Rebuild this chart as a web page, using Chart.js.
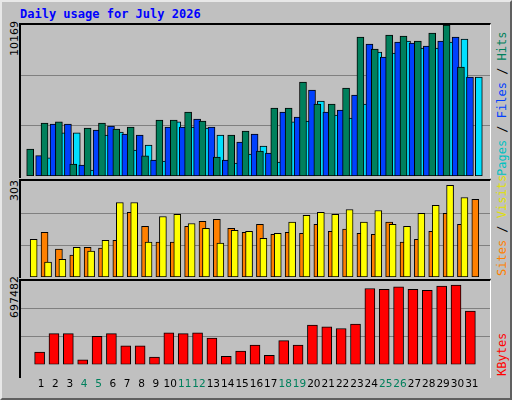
<!DOCTYPE html>
<html>
<head>
<meta charset="utf-8">
<script src="https://cdn.jsdelivr.net/npm/chart.js@4"></script>
<style>
  body { margin: 0; width: 512px; height: 400px; background: #c0c0c0; position: relative; overflow: hidden; font-family: "DejaVu Sans Mono", monospace; }
  #frame { position: absolute; left: 0; top: 0; width: 508px; height: 396px; border-top: 2px solid #e8e8e8; border-left: 2px solid #e8e8e8; border-right: 2px solid #606060; border-bottom: 2px solid #606060; }
  #title { position: absolute; left: 20px; top: 7px; font-weight: bold; font-size: 12px; color: #0000ff; }
  .box { position: absolute; left: 19px; width: 472px; border-top: 2px solid #000; border-left: 2px solid #000; border-right: 1px solid #fff; box-sizing: border-box; }
  canvas { position: absolute; }
  .vl { position: absolute; transform-origin: 0 0; transform: rotate(-90deg); white-space: nowrap; font-size: 12px; }
</style>
</head>
<body>
<div id="frame"></div>
<div id="title">Daily usage for July 2026</div>
<div class="box" style="top:23px;height:155px"></div>
<div class="box" style="top:179px;height:99px"></div>
<div class="box" style="top:279px;height:99px"></div>
<canvas id="c1" style="left:21px;top:25px;width:469px;height:151px"></canvas>
<canvas id="c2" style="left:21px;top:181px;width:469px;height:96px"></canvas>
<canvas id="c3" style="left:21px;top:281px;width:469px;height:116px"></canvas>
<div class="vl" style="left:8px;top:56px;font-family:'DejaVu Sans';font-size:11px">10169</div>
<div class="vl" style="left:8px;top:201px;font-family:'DejaVu Sans';font-size:11px">303</div>
<div class="vl" style="left:8px;top:318px;font-family:'DejaVu Sans';font-size:11px">697482</div>
<div class="vl" style="left:495px;top:176px"><span style="color:#00c0c0">Pages</span> / <span style="color:#0040ff">Files</span> / <span style="color:#00805c">Hits</span></div>
<div class="vl" style="left:495px;top:276px"><span style="color:#ff8000">Sites</span> / <span style="color:#e0e000">Visits</span></div>
<div class="vl" style="left:495px;top:376px;color:#ff0000">KBytes</div>
<script>
const days = Array.from({length: 31}, (_, i) => i + 1);
const weekend = [4, 5, 11, 12, 18, 19, 25, 26];

const maxHits = 10169;
const hits  = [1820,3570,3640,810,3230,3570,3160,3300,1350,3770,3770,4310,3700,1280,2760,3030,1680,4580,4580,6330,4850,4850,5920,9360,8550,9490,9420,9090,9620,10169,7340];
const files = [1370,3500,3500,740,3100,3370,2830,2760,1080,3300,3300,3840,3300,1080,2290,2830,1550,4310,3970,5790,4310,4440,5450,8890,8010,9020,8950,8750,9090,9360,6660];
const pages = [1230,2900,2900,400,2760,2960,1750,2090,1010,3640,3300,3230,2760,870,1480,2020,940,3640,3700,5050,4110,3900,4850,8350,8280,9090,8620,8620,9020,9220,6660];

const maxVisits = 303;
const visits = [119,47,56,94,82,116,235,235,110,191,198,169,154,107,147,144,122,138,173,195,204,198,213,173,210,166,160,201,226,289,251];
const sites  = [141,88,69,94,91,116,204,160,110,110,160,176,182,154,141,166,135,141,138,166,144,151,138,135,173,110,119,144,201,166,245];

const maxKB = 697482;
const kbytes = [104000,257000,257000,39000,235000,257000,155000,155000,61000,264000,257000,264000,220000,68000,111000,162000,75000,199000,162000,329000,315000,300000,337000,635000,627000,649000,627000,620000,656000,664000,446000];

const xMin = 0.13, xMax = 31.74;

// each series gets its own x axis, shifted so its bars sit left of the day centre
function xAxis(shift, showX) {
  return {type: 'linear', min: xMin + shift, max: xMax + shift, display: showX,
          grid: {display: false}, border: {display: false},
          afterBuildTicks: s => { s.ticks = days.map(v => ({value: v + shift})); },
          ticks: {autoSkip: false, maxRotation: 0, padding: 6,
                  font: {family: 'DejaVu Sans', size: 10.5},
                  color: c => weekend.includes(days[c.index]) ? '#00805c' : '#000',
                  callback: (v, i) => days[i]}};
}
function make(id, series, max) {
  const el = document.getElementById(id);
  el.width = parseInt(el.style.width); el.height = parseInt(el.style.height);
  const scales = {
    y: {min: 0, max: max, display: true,
        afterBuildTicks: s => { s.ticks = [{value: max / 3}, {value: max * 2 / 3}]; },
        ticks: {display: false}, border: {display: false},
        grid: {color: '#808080', lineWidth: 1, drawTicks: false}}
  };
  const datasets = series.map((s, k) => {
    scales['x' + k] = xAxis(s.shift, !!s.showX);
    return {data: s.vals.map((v, i) => ({x: days[i], y: v})), xAxisID: 'x' + k,
            backgroundColor: s.color, borderColor: '#000', borderWidth: 1,
            borderSkipped: false, barThickness: s.w};
  });
  new Chart(el, {type: 'bar', data: {datasets: datasets}, options: {
    responsive: false, animation: false, events: [], layout: {padding: 0},
    plugins: {legend: {display: false}, tooltip: {enabled: false}},
    scales: scales
  }});
}

make('c1', [
  {vals: hits,  shift: 0.27, color: '#00805c', w: 7},
  {vals: files, shift: 0.13, color: '#0040ff', w: 7},
  {vals: pages, shift: 0,    color: '#00e0ff', w: 7}
], maxHits);
make('c2', [
  {vals: visits, shift: 0.27, color: '#ffff00', w: 7},
  {vals: sites,  shift: 0,    color: '#ff8000', w: 7}
], maxVisits);
make('c3', [
  {vals: kbytes, shift: 0.1, color: '#ff0000', w: 10, showX: true}
], maxKB);
</script>
</body>
</html>
